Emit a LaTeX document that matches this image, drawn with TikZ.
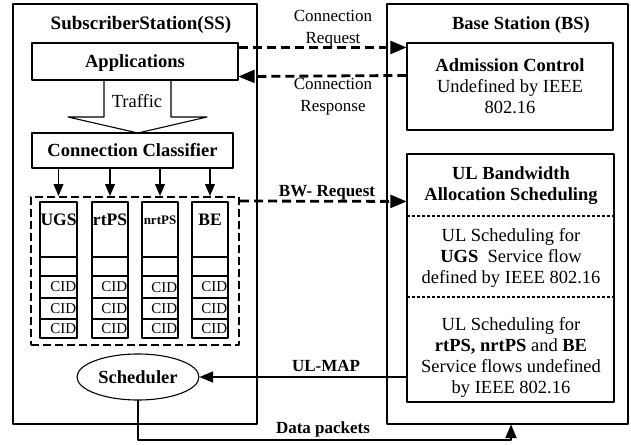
\documentclass[tikz,border=0pt]{standalone}
\usepackage{fontspec}
\setmainfont{Liberation Serif}
\usetikzlibrary{arrows,shapes.geometric}

\begin{document}
\begin{tikzpicture}[line cap=round,line join=round,>=triangle 45,x=1pt,y=-1pt,
  box/.style={draw,line width=1.1pt,inner sep=0pt},
  txt/.style={inner sep=0pt,align=center,font=\fontsize{18.5}{21}\selectfont},
  btxt/.style={txt,font=\fontsize{18.5}{21}\selectfont\bfseries},
  lbl/.style={inner sep=0pt,align=center,font=\fontsize{17}{22}\selectfont},
  blbl/.style={lbl,font=\fontsize{17}{22}\selectfont\bfseries},
  cid/.style={inner sep=0pt,anchor=east,font=\fontsize{15}{15}\selectfont},
  dasharr/.style={->,line cap=butt,line width=2.8pt,dash pattern=on 9pt off 5pt},
  solidarr/.style={->,line width=2.2pt}]
\clip(0,0) rectangle (631,444);
% the two stations
\node[box,minimum width=244pt,minimum height=420pt] (ss) at (135,214) {};
\node[box,minimum width=241pt,minimum height=420pt] (bs) at (507.5,214) {};
\node[btxt,font=\fontsize{19}{21}\selectfont\bfseries] (sstitle) at (141,25) {SubscriberStation(SS)};
\node[btxt] (bstitle) at (521,25) {Base Station (BS)};
% subscriber station
\node[box,btxt,text depth=0pt,minimum width=206pt,minimum height=37pt] (app) at (135,61.5) {Applications};
\draw [line width=1.1pt] (104,80) -- (104,117) -- (68,117) -- (138,133) -- (207,117) -- (171,117) -- (171,80);
\node[txt] (traffic) at (137,101) {Traffic};
\node[box,btxt,minimum width=201pt,minimum height=35pt] (cc) at (132.5,150.5) {Connection Classifier};
\node[box,line width=2pt,line cap=butt,dash pattern=on 8pt off 4pt,minimum width=208pt,minimum height=148pt] (qbox) at (135,271) {};
\node[box,minimum width=37pt,minimum height=136pt] (ugs) at (58.5,270) {};
\node[box,minimum width=36pt,minimum height=136pt] (rtps) at (110,270) {};
\node[box,minimum width=36pt,minimum height=136pt] (nrtps) at (160,270) {};
\node[box,minimum width=36pt,minimum height=136pt] (be) at (210,270) {};
\draw [->,line width=1.8pt] (cc.south -| ugs) -- (qbox.north -| ugs);
\draw [->,line width=1.8pt] (cc.south -| rtps) -- (qbox.north -| rtps);
\draw [->,line width=1.8pt] (cc.south -| nrtps) -- (qbox.north -| nrtps);
\draw [->,line width=1.8pt] (cc.south -| be) -- (qbox.north -| be);
\draw [line width=1.1pt] (40,257) -- (77,257) (40,276) -- (77,276) (40,298) -- (77,298) (40,319) -- (77,319);
\draw [line width=1.1pt] (92,257) -- (128,257) (92,276) -- (128,276) (92,298) -- (128,298) (92,319) -- (128,319);
\draw [line width=1.1pt] (142,257) -- (178,257) (142,276) -- (178,276) (142,298) -- (178,298) (142,319) -- (178,319);
\draw [line width=1.1pt] (192,257) -- (228,257) (192,276) -- (228,276) (192,298) -- (228,298) (192,319) -- (228,319);
\node[btxt,font=\fontsize{17.5}{21}\selectfont\bfseries] (ugslbl) at (58.5,220) {UGS};
\node[btxt,font=\fontsize{17.5}{21}\selectfont\bfseries] (rtpslbl) at (110,220) {rtPS};
\node[btxt,font=\fontsize{13}{21}\selectfont\bfseries] (nrtpslbl) at (160,220) {nrtPS};
\node[btxt,font=\fontsize{17.5}{21}\selectfont\bfseries] (belbl) at (210,220) {BE};
\node[cid] (ugsa) at (76.5,287) {CID};
\node[cid] (ugsb) at (76.5,308.5) {CID};
\node[cid] (ugsc) at (76.5,328.5) {CID};
\node[cid] (rtpsa) at (127.5,287) {CID};
\node[cid] (rtpsb) at (127.5,308.5) {CID};
\node[cid] (rtpsc) at (127.5,328.5) {CID};
\node[cid] (nrtpsa) at (177.5,288) {CID};
\node[cid] (nrtpsb) at (177.5,308.5) {CID};
\node[cid] (nrtpsc) at (177.5,328.5) {CID};
\node[cid] (bea) at (227.5,287) {CID};
\node[cid] (beb) at (227.5,308.5) {CID};
\node[cid] (bec) at (227.5,328.5) {CID};
\node[ellipse,draw,line width=1.1pt,btxt,minimum width=122pt,minimum height=46pt] (sch) at (138,377) {Scheduler};
% base station
\node[box,minimum width=206pt,minimum height=87pt] (adm) at (510,86.5) {};
\node[txt] (admtxt) at (adm) {\textbf{Admission Control}\\Undefined by IEEE\\802.16};
\node[box,minimum width=207pt,minimum height=248pt] (ul) at (510.5,278) {};
\draw [line width=1.1pt,line cap=butt,dash pattern=on 3pt off 2pt] (407,216) -- (614,216);
\draw [line width=1.1pt,line cap=butt,dash pattern=on 3pt off 2pt] (407,297) -- (614,297);
\node[btxt] (ultitle) at (511,186) {UL Bandwidth\\Allocation Scheduling};
\node[txt] (ugsflow) at (511,258) {UL Scheduling for\\\textbf{UGS}\ \ Service flow\\defined by IEEE 802.16};
\node[txt] (otherflow) at (511,357) {UL Scheduling for\\\textbf{rtPS, nrtPS} and \textbf{BE}\\Service flows undefined\\by IEEE 802.16};
% messages between SS and BS
\draw [dasharr] ([yshift=-5pt]app.north east) -- ([yshift=-5pt]adm.north west);
\draw [dasharr] ([yshift=-33pt]adm.north west) -- ([yshift=4pt]app.south east);
\node[lbl] (creq) at (333,29) {Connection\\Request};
\node[lbl] (cresp) at (333,96.5) {Connection\\Response};
\draw [dasharr] ([yshift=-5pt]qbox.north east) -- ([yshift=-48pt]ul.north west);
\node[blbl] (bwreq) at (327,193) {BW- Request};
\draw [solidarr] (ul.west |- sch.east) -- (sch.east);
\node[blbl] (ulmap) at (326,366) {UL-MAP};
\coordinate (dpcorner) at (511,440);
\draw [solidarr] (sch.south) |- (dpcorner) -- (dpcorner |- bs.south);
\node[blbl] (dp) at (323,429) {Data packets};
\end{tikzpicture}
\end{document}
